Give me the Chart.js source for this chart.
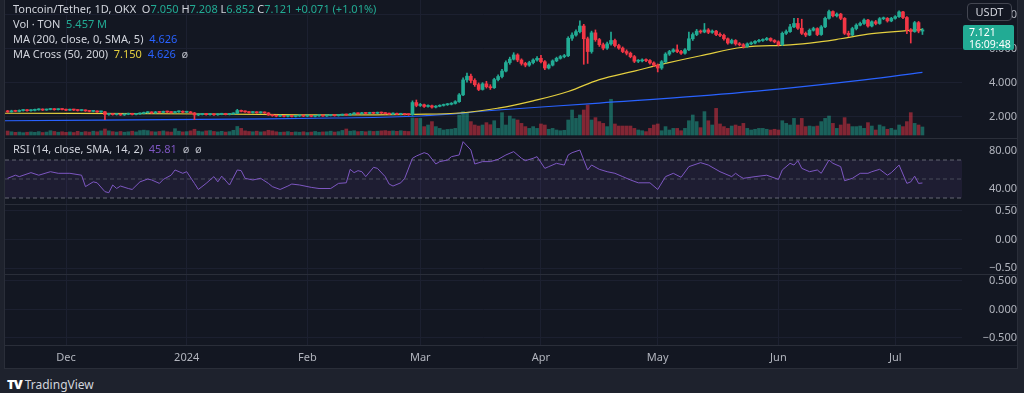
<!DOCTYPE html>
<html>
<head>
<meta charset="utf-8">
<title>Toncoin/Tether 1D</title>
<script src="https://cdn.jsdelivr.net/npm/chart.js@4.4.1/dist/chart.umd.min.js"></script>
<style>
  body { margin: 0; width: 1024px; height: 393px; background: #1e222d; overflow: hidden; font-family: 'Noto Sans', sans-serif; }
  #frame { position: absolute; left: 4px; top: -1px; width: 1014px; height: 370px; box-sizing: border-box; background: #131722; border: 1px solid #2a2e39; }
  canvas { position: absolute; left: 0; }
  .sep { position: absolute; left: 5px; width: 1012px; height: 1px; background: #2a2e39; }
  .legend { position: absolute; left: 13px; font-size: 11px; line-height: 15px; color: #d1d4dc; white-space: nowrap; }
  .g { color: #22ab94; }
  .b { color: #2962ff; }
  .y { color: #e4cf3f; }
  .p { color: #7e57c2; }
  .m { color: #b2b5be; }
  #unit { position: absolute; left: 967px; top: 3px; width: 45px; height: 18px; box-sizing: border-box; border: 1px solid #434651; border-radius: 4px; background: #131722; color: #d1d4dc; font-size: 11px; line-height: 16px; text-align: center; }
  #last { position: absolute; left: 963px; top: 25px; width: 51px; height: 25px; background: #22ab94; border-radius: 2px; color: #fff; font-size: 10.5px; line-height: 12px; padding: 1px 0 0 6px; box-sizing: border-box; white-space: nowrap; }
  #tv { position: absolute; left: 7px; top: 375px; color: #d1d4dc; font-size: 12px; white-space: nowrap; }
  #tv b { font-weight: 900; font-size: 13px; letter-spacing: -1px; color: #fff; margin-right: 3px; }
</style>
</head>
<body>
<div id="frame"></div>
<canvas id="price" width="1017" height="138" style="top:0"></canvas>
<canvas id="rsi" width="1017" height="65" style="top:139px"></canvas>
<canvas id="pane3" width="1017" height="69" style="top:205px"></canvas>
<canvas id="pane4" width="1017" height="93" style="top:275px"></canvas>
<div class="sep" style="top:138px"></div>
<div class="sep" style="top:204px"></div>
<div class="sep" style="top:274px"></div>
<div class="sep" style="top:345px"></div>

<div class="legend" style="top:1px">
  <div>Toncoin/Tether, 1D, OKX&nbsp; O<span class="g">7.050</span> H<span class="g">7.208</span> L<span class="g">6.852</span> C<span class="g">7.121</span> <span class="g">+0.071 (+1.01%)</span></div>
  <div>Vol · TON&nbsp; <span class="g">5.457 M</span></div>
  <div>MA (200, close, 0, SMA, 5)&nbsp; <span class="b">4.626</span></div>
  <div>MA Cross (50, 200)&nbsp; <span class="y">7.150</span>&nbsp; <span class="b">4.626</span>&nbsp; <span class="m">ø</span></div>
</div>
<div class="legend" style="top:141px">RSI (14, close, SMA, 14, 2)&nbsp; <span class="p">45.81</span>&nbsp; <span class="m">ø</span>&nbsp; <span class="m">ø</span></div>
<div id="unit">USDT</div>
<div id="last">7.121<br>16:09:48</div>
<div id="tv"><b>TV</b>TradingView</div>

<script>
// days are counted from 1 Dec 2023; first candle is 16 Nov 2023
const firstDay = -15;

const opens = [
  2.35, 2.30, 2.36, 2.33, 2.38, 2.40, 2.37, 2.39, 2.42, 2.45,
  2.41, 2.44, 2.47, 2.43, 2.46, 2.44, 2.40, 2.43, 2.41, 2.38,
  2.40, 2.36, 2.33, 2.35, 2.30, 2.31, 2.15, 2.18, 2.14, 2.17,
  2.12, 2.16, 2.20, 2.15, 2.18, 2.21, 2.25, 2.28, 2.24, 2.30,
  2.27, 2.32, 2.29, 2.26, 2.30, 2.33, 2.28, 2.30, 2.24, 2.12,
  2.15, 2.18, 2.14, 2.17, 2.13, 2.16, 2.19, 2.15, 2.18, 2.21,
  2.38, 2.33, 2.30, 2.26, 2.29, 2.25, 2.28, 2.24, 2.12, 2.08,
  2.05, 2.08, 2.04, 2.07, 2.03, 2.06, 2.09, 2.05, 2.08, 2.04,
  2.07, 2.10, 2.06, 2.09, 2.12, 2.08, 2.11, 2.14, 2.12, 2.18,
  2.22, 2.19, 2.24, 2.21, 2.25, 2.22, 2.26, 2.23, 2.20, 2.17,
  2.21, 2.16, 2.19, 2.15,
  2.14, 2.85, 2.68, 2.72, 2.62, 2.66, 2.58, 2.63, 2.68, 2.72,
  2.75, 2.80, 2.90, 3.30, 4.18, 4.40, 4.15, 3.90, 3.62, 3.95,
  3.78, 3.72, 4.20, 4.38, 4.70, 5.20, 5.40, 5.65, 5.35, 5.15,
  5.05, 5.20, 5.35, 5.45, 5.25, 4.88, 5.05, 5.30, 5.45, 5.55,
  5.60, 6.63, 6.82, 7.02, 7.35, 6.60, 5.85, 6.95, 6.55, 6.25,
  6.05, 6.30, 6.50, 6.20, 6.05, 5.85, 5.75, 5.55, 5.28, 5.30,
  5.35, 5.32, 5.18, 5.05, 4.88, 5.25, 5.70, 5.85, 5.95, 5.85,
  5.75, 5.95, 6.60, 6.85,
  7.05, 7.00, 7.12, 6.98, 7.05, 6.85, 6.80, 6.60, 6.35, 6.50,
  6.30, 6.25, 6.15, 6.30, 6.35, 6.45, 6.50, 6.55, 6.62, 6.50,
  6.42, 6.25, 6.92, 7.02, 7.30, 7.50, 7.22, 6.92, 6.82, 7.10,
  7.20, 6.85, 7.30, 7.80, 8.20, 7.95, 8.05, 7.80, 6.92, 6.82,
  7.20, 7.40, 7.50, 7.70, 7.35, 7.60, 7.50, 7.78, 7.80, 7.65,
  7.80, 7.90, 8.18, 7.85, 7.12, 7.02, 7.55, 7.05
];

const highs = [
  2.39, 2.40, 2.40, 2.42, 2.44, 2.43, 2.43, 2.46, 2.49, 2.48,
  2.47, 2.51, 2.50, 2.49, 2.49, 2.47, 2.46, 2.46, 2.44, 2.43,
  2.42, 2.39, 2.38, 2.37, 2.35, 2.34, 2.22, 2.20, 2.20, 2.19,
  2.19, 2.23, 2.22, 2.21, 2.24, 2.29, 2.32, 2.31, 2.33, 2.33,
  2.35, 2.35, 2.32, 2.33, 2.37, 2.36, 2.34, 2.33, 2.27, 2.19,
  2.21, 2.21, 2.20, 2.20, 2.19, 2.22, 2.22, 2.21, 2.25, 2.45,
  2.41, 2.36, 2.32, 2.32, 2.31, 2.31, 2.30, 2.26, 2.14, 2.11,
  2.11, 2.10, 2.10, 2.09, 2.09, 2.12, 2.12, 2.11, 2.10, 2.10,
  2.13, 2.12, 2.12, 2.15, 2.14, 2.14, 2.17, 2.17, 2.21, 2.26,
  2.25, 2.27, 2.27, 2.28, 2.28, 2.29, 2.29, 2.26, 2.23, 2.24,
  2.23, 2.22, 2.21, 2.18,
  2.95, 3.00, 2.80, 2.76, 2.72, 2.70, 2.67, 2.72, 2.76, 2.80,
  2.85, 2.96, 3.38, 4.30, 4.58, 4.52, 4.25, 4.00, 4.02, 4.10,
  3.90, 4.28, 4.48, 4.80, 5.30, 5.52, 5.78, 5.72, 5.42, 5.22,
  5.28, 5.42, 5.55, 5.62, 5.32, 5.12, 5.36, 5.52, 5.62, 5.68,
  6.72, 6.95, 7.12, 7.66, 7.45, 6.70, 7.05, 7.12, 6.62, 6.35,
  6.40, 7.00, 6.58, 6.28, 6.12, 5.95, 5.82, 5.62, 5.38, 5.42,
  5.42, 5.38, 5.24, 5.12, 5.32, 5.78, 5.92, 6.02, 6.24, 5.92,
  6.02, 7.00, 6.95, 7.15,
  7.12, 7.50, 7.20, 7.12, 7.10, 6.95, 6.88, 6.65, 6.58, 6.55,
  6.38, 6.32, 6.36, 6.42, 6.50, 6.56, 6.60, 6.68, 6.66, 6.55,
  6.48, 7.00, 7.12, 7.45, 7.80, 7.80, 7.75, 7.00, 7.18, 7.28,
  7.25, 7.38, 7.88, 8.28, 8.25, 8.12, 8.10, 7.85, 7.05, 7.28,
  7.48, 7.58, 7.78, 7.75, 7.66, 7.68, 7.85, 7.88, 7.85, 7.86,
  7.96, 8.24, 8.22, 7.90, 7.20, 7.62, 7.62, 7.208
];

const lows = [
  2.27, 2.28, 2.31, 2.30, 2.35, 2.34, 2.34, 2.36, 2.40, 2.38,
  2.39, 2.42, 2.40, 2.41, 2.42, 2.37, 2.38, 2.38, 2.35, 2.36,
  2.33, 2.30, 2.30, 2.27, 2.27, 1.85, 2.10, 2.11, 2.11, 2.09,
  2.09, 2.13, 2.12, 2.12, 2.15, 2.18, 2.22, 2.21, 2.21, 2.24,
  2.24, 2.26, 2.23, 2.23, 2.27, 2.25, 2.25, 2.20, 1.85, 2.08,
  2.12, 2.11, 2.11, 2.10, 2.10, 2.13, 2.12, 2.12, 2.15, 2.19,
  2.30, 2.27, 2.23, 2.23, 2.22, 2.22, 2.21, 2.09, 2.04, 2.01,
  2.02, 2.01, 2.01, 2.00, 2.00, 2.03, 2.02, 2.02, 2.01, 2.01,
  2.04, 2.03, 2.03, 2.06, 2.05, 2.05, 2.08, 2.09, 2.10, 2.15,
  2.16, 2.16, 2.18, 2.18, 2.19, 2.19, 2.20, 2.17, 2.14, 2.14,
  2.13, 2.13, 2.12, 2.10,
  2.10, 2.60, 2.62, 2.57, 2.58, 2.52, 2.54, 2.60, 2.64, 2.68,
  2.71, 2.76, 2.86, 3.25, 4.05, 4.00, 3.80, 3.55, 3.58, 3.70,
  3.62, 3.68, 4.12, 4.30, 4.65, 5.10, 5.35, 5.25, 5.05, 4.95,
  4.98, 5.12, 5.28, 5.18, 4.78, 4.82, 5.00, 5.25, 5.40, 5.48,
  5.55, 6.50, 6.75, 6.95, 5.10, 5.15, 5.75, 6.45, 6.15, 5.95,
  5.98, 6.22, 6.12, 5.98, 5.78, 5.65, 5.48, 5.20, 5.20, 5.24,
  5.25, 5.10, 4.98, 4.65, 4.80, 5.18, 5.62, 5.80, 5.78, 5.68,
  5.70, 5.90, 6.50, 6.78,
  6.92, 6.95, 6.90, 6.92, 6.78, 6.72, 6.52, 6.28, 6.30, 6.22,
  6.18, 6.05, 6.10, 6.25, 6.30, 6.40, 6.45, 6.50, 6.45, 6.36,
  6.18, 6.20, 6.85, 6.98, 7.25, 7.15, 6.85, 6.72, 6.78, 7.05,
  6.78, 6.80, 7.25, 7.75, 7.88, 7.88, 7.72, 6.85, 6.72, 6.78,
  7.12, 7.35, 7.45, 7.28, 7.30, 7.42, 7.45, 7.72, 7.58, 7.60,
  7.75, 7.85, 7.78, 6.90, 6.35, 6.98, 6.95, 6.852
];

const closes = [
  2.30, 2.36, 2.33, 2.38, 2.40, 2.37, 2.39, 2.42, 2.45, 2.41,
  2.44, 2.47, 2.43, 2.46, 2.44, 2.40, 2.43, 2.41, 2.38, 2.40,
  2.36, 2.33, 2.35, 2.30, 2.31, 2.15, 2.18, 2.14, 2.17, 2.12,
  2.16, 2.20, 2.15, 2.18, 2.21, 2.25, 2.28, 2.24, 2.30, 2.27,
  2.32, 2.29, 2.26, 2.30, 2.33, 2.28, 2.30, 2.24, 2.12, 2.15,
  2.18, 2.14, 2.17, 2.13, 2.16, 2.19, 2.15, 2.18, 2.21, 2.38,
  2.33, 2.30, 2.26, 2.29, 2.25, 2.28, 2.24, 2.12, 2.08, 2.05,
  2.08, 2.04, 2.07, 2.03, 2.06, 2.09, 2.05, 2.08, 2.04, 2.07,
  2.10, 2.06, 2.09, 2.12, 2.08, 2.11, 2.14, 2.12, 2.18, 2.22,
  2.19, 2.24, 2.21, 2.25, 2.22, 2.26, 2.23, 2.20, 2.17, 2.21,
  2.16, 2.19, 2.15, 2.14,
  2.85, 2.68, 2.72, 2.62, 2.66, 2.58, 2.63, 2.68, 2.72, 2.75,
  2.80, 2.90, 3.30, 4.18, 4.40, 4.15, 3.90, 3.62, 3.95, 3.78,
  3.72, 4.20, 4.38, 4.70, 5.20, 5.40, 5.65, 5.35, 5.15, 5.05,
  5.20, 5.35, 5.45, 5.25, 4.88, 5.05, 5.30, 5.45, 5.55, 5.60,
  6.63, 6.82, 7.02, 7.35, 6.60, 5.85, 6.95, 6.55, 6.25, 6.05,
  6.30, 6.50, 6.20, 6.05, 5.85, 5.75, 5.55, 5.28, 5.30, 5.35,
  5.32, 5.18, 5.05, 4.88, 5.25, 5.70, 5.85, 5.95, 5.85, 5.75,
  5.95, 6.60, 6.85, 7.05,
  7.00, 7.12, 6.98, 7.05, 6.85, 6.80, 6.60, 6.35, 6.50, 6.30,
  6.25, 6.15, 6.30, 6.35, 6.45, 6.50, 6.55, 6.62, 6.50, 6.42,
  6.25, 6.92, 7.02, 7.30, 7.50, 7.22, 6.92, 6.82, 7.10, 7.20,
  6.85, 7.30, 7.80, 8.20, 7.95, 8.05, 7.80, 6.92, 6.82, 7.20,
  7.40, 7.50, 7.70, 7.35, 7.60, 7.50, 7.78, 7.80, 7.65, 7.80,
  7.90, 8.18, 7.85, 7.12, 7.02, 7.55, 7.05, 7.121
];

// millions of TON
const volumes = [
  2.7, 2.2, 1.8, 2.0, 1.6, 1.9, 2.1, 1.8, 2.3, 1.7,
  2.0, 2.9, 2.4, 1.9, 2.2, 1.8, 2.1, 1.7, 2.5, 1.9,
  2.3, 2.0, 2.6, 2.2, 2.8, 4.1, 2.8, 2.3, 2.0, 2.4,
  1.9, 2.2, 2.6, 2.1, 3.0, 3.3, 3.0, 2.3, 2.1, 2.4,
  2.8, 2.2, 2.0, 4.3, 2.6, 2.1, 2.3, 2.8, 3.9, 2.6,
  2.2, 2.8, 3.0, 2.4, 2.1, 2.5, 2.0, 2.3, 3.2, 5.8,
  4.5, 2.8, 2.4, 2.2, 2.6, 2.1, 2.3, 3.2, 2.8, 2.2,
  1.9, 2.0, 2.3, 1.8, 2.1, 1.9, 2.2, 1.7, 2.0, 2.4,
  1.9, 2.1, 2.2, 2.6, 2.0, 2.3, 3.1, 4.1, 2.6, 2.9,
  2.3, 2.5, 2.2, 2.7, 2.4, 2.6, 2.8, 3.0, 2.6, 2.8,
  2.5, 2.9, 2.6, 2.4,
  11.6, 11.3, 11.3, 5.7, 6.8, 9.1, 5.7, 4.5, 3.4, 3.8,
  4.0, 4.5, 13.6, 15.9, 15.2, 9.1, 6.8, 6.1, 6.8, 8.4,
  7.0, 9.7, 4.5, 15.2, 6.8, 12.9, 11.0, 10.2, 7.9, 5.7,
  4.5, 5.7, 4.5, 7.5, 6.8, 3.9, 4.5, 3.4, 2.9, 3.2,
  10.2, 17.0, 11.3, 13.6, 17.0, 20.4, 10.2, 11.8, 9.1, 7.9,
  5.7, 24.3, 7.5, 6.1, 6.1, 6.1, 6.1, 4.5, 3.4, 2.9,
  2.3, 4.5, 6.8, 7.5, 2.9, 5.7, 3.4, 4.5, 4.5, 2.9,
  4.5, 9.7, 13.6, 9.1,
  5.0, 15.9, 9.7, 6.8, 18.1, 7.5, 5.7, 4.5, 6.1, 6.8,
  6.0, 7.9, 4.5, 3.4, 3.9, 4.5, 4.5, 3.9, 3.4, 3.9,
  3.4, 9.7, 7.9, 6.8, 11.3, 6.8, 11.3, 5.7, 6.1, 5.7,
  6.1, 9.1, 11.3, 12.9, 7.9, 4.5, 6.8, 11.8, 7.5, 5.7,
  5.7, 6.1, 4.5, 8.4, 6.1, 3.4, 6.8, 5.7, 3.9, 4.5,
  3.4, 6.8, 5.7, 9.1, 15.2, 7.9, 6.8, 5.457
];

// moving averages at a few days
const ma50Days = [-16, 20, 50, 70, 89, 102, 111, 120, 129, 137, 146, 154, 163, 174, 186, 194, 199, 207, 216, 220];
const ma50Values = [2.22, 2.20, 2.15, 2.12, 2.16, 2.25, 2.52, 2.95, 3.50, 4.20, 4.70, 5.15, 5.60, 6.10, 6.24, 6.43, 6.60, 6.90, 7.08, 7.15];
const ma200Days = [-16, 34, 69, 91, 111, 137, 163, 188, 205, 220];
const ma200Values = [1.78, 1.86, 1.94, 2.06, 2.41, 2.82, 3.24, 3.76, 4.18, 4.626];

const rsiDays = [
  -15, -13, -12, -9, -7, -4, -2, 1, 4, 5,
  7, 8, 10, 11, 12, 13, 14, 16, 17, 19,
  21, 22, 24, 25, 27, 28, 30, 31, 33, 34,
  36, 38, 39, 40, 42, 44, 45, 46, 48, 50,
  52, 53, 55, 57, 58, 60, 63, 65, 68, 70,
  72, 73, 74, 75, 76, 77, 79, 80, 82, 83,
  84, 86, 87, 89, 90, 92, 93, 95, 96, 98,
  99, 101, 102, 104, 105, 107, 109, 111, 113, 115,
  117, 118, 120, 121, 123, 124, 126, 128, 129, 130,
  132, 134, 135, 137, 139, 141, 143, 145, 147, 150,
  152, 154, 156, 158, 160, 163, 165, 168, 171, 172,
  173, 174, 177, 180, 183, 184, 186, 187, 188, 189,
  191, 193, 194, 196, 197, 199, 200, 202, 204, 206,
  207, 209, 211, 212, 214, 216, 217, 218, 219, 220
];
const rsiValues = [
  50.7, 54, 52.5, 56.7, 54, 57.7, 56, 56, 54, 42,
  47, 46, 36.7, 35.6, 43.7, 40, 42.6, 40, 39, 47,
  50, 49, 45.4, 49.6, 54, 59.5, 56, 57.7, 45.4, 39,
  45.4, 52.5, 47, 53, 43.7, 59.5, 58.8, 50.7, 49, 50.7,
  45.4, 42, 39, 42.6, 44.7, 43.7, 41.2, 40, 40, 45.4,
  46, 60.2, 56.7, 58.8, 57.7, 52.5, 62.3, 61.2, 52.5, 44.7,
  42.6, 46, 50.7, 71.8, 74.2, 77.7, 76.3, 65.8, 68.3, 70,
  73.5, 75.3, 89.3, 80.5, 65.8, 68.3, 68.3, 70.7, 75.3, 78.8,
  71.8, 69.3, 71.8, 73.5, 61.2, 63, 66.5, 64.7, 75.3, 77.7,
  80.5, 59.5, 64.7, 60.2, 57.7, 56, 52.5, 49, 46, 46,
  39, 52.5, 56, 51.8, 63, 67.2, 64.7, 57.7, 52.5, 56,
  53, 50.7, 52.5, 54, 49.6, 59.5, 66.5, 64.7, 69.3, 61.2,
  57.7, 59.5, 56, 70, 66.5, 63, 48.2, 50.7, 56, 56,
  57.7, 60.2, 54, 56.7, 64.7, 45.4, 47, 53, 45.4, 45.81
];
const rsiLevels = [70, 50, 30];

const monthDays = [0, 31, 62, 91, 122, 152, 183, 213];
const monthLabels = ['Dec', '2024', 'Feb', 'Mar', 'Apr', 'May', 'Jun', 'Jul'];
const priceTicks = [2, 4, 6, 8];
const rsiTicks = [40, 80];
const emptyTicks = [-0.5, 0, 0.5];

Chart.defaults.font.family = "'Noto Sans', sans-serif";
Chart.defaults.font.size = 11;
Chart.defaults.color = '#b2b5be';

const xMin = -15.67;
const xMax = 230.16;
const gridColor = '#1c2030';
const upColor = '#22ab94';
const downColor = '#f23645';
const upVol = 'rgba(34, 171, 148, 0.5)';
const downVol = 'rgba(242, 54, 69, 0.5)';

function isUp(i)
{
    return closes[i] >= opens[i];
}

function monthAxis(showLabels)
{
    return {
        type: 'linear', min: xMin, max: xMax, offset: false,
        afterBuildTicks: s => { s.ticks = monthDays.map(v => ({value: v})); },
        ticks: { display: showLabels, autoSkip: false, maxRotation: 0, padding: 6, callback: (v, i) => monthLabels[i] },
        grid: { color: gridColor, drawTicks: false, offset: false },
        border: { display: false },
        afterFit: s => { s.height = showLabels ? 23 : 0; s.paddingLeft = 0; s.paddingRight = 0; }
    };
}

function sideAxis(min, max, ticks, digits, pad, showGrid)
{
    return {
        type: 'linear', position: 'right', min: min, max: max,
        afterBuildTicks: s => { s.ticks = ticks.map(v => ({value: v})); },
        ticks: { padding: pad, crossAlign: 'far', callback: v => v.toFixed(digits).replace('-', '\u2212') },
        grid: { display: showGrid, color: gridColor, drawTicks: false },
        border: { display: false },
        afterFit: s => { s.width = 55; s.paddingTop = 0; s.paddingBottom = 0; }
    };
}

function baseOptions(scales)
{
    return {
        responsive: false,
        animation: false,
        devicePixelRatio: 1,
        events: [],
        layout: { padding: { left: 5 }, autoPadding: false },
        plugins: { legend: { display: false }, tooltip: { enabled: false } },
        scales: scales
    };
}

const days = closes.map((c, i) => firstDay + i);

new Chart(document.getElementById('price'), {
    type: 'bar',
    data: {
        datasets: [
            {
                data: days.map((d, i) => ({x: d, y: [opens[i], closes[i]]})),
                backgroundColor: c => isUp(c.dataIndex) ? upColor : downColor,
                barThickness: 3, minBarLength: 1, grouped: false, order: 1
            },
            {
                data: days.map((d, i) => ({x: d, y: [lows[i], highs[i]]})),
                backgroundColor: c => isUp(c.dataIndex) ? upColor : downColor,
                barThickness: 1, grouped: false, order: 2
            },
            {
                type: 'line',
                data: ma50Days.map((d, i) => ({x: d, y: ma50Values[i]})),
                borderColor: '#e4cf3f', borderWidth: 1.2, pointRadius: 0, tension: 0.4, order: 3
            },
            {
                type: 'line',
                data: ma200Days.map((d, i) => ({x: d, y: ma200Values[i]})),
                borderColor: '#2962ff', borderWidth: 1.2, pointRadius: 0, tension: 0.4, order: 4
            },
            {
                data: days.map((d, i) => ({x: d, y: volumes[i]})),
                yAxisID: 'yVol',
                backgroundColor: c => isUp(c.dataIndex) ? upVol : downVol,
                barThickness: 3, grouped: false, order: 5
            }
        ]
    },
    options: baseOptions({
        x: monthAxis(false),
        y: sideAxis(0.765, 8.88, priceTicks, 3, 7, true),
        yVol: { type: 'linear', display: false, min: -2.04, max: 91.8 }
    })
});

const bandLine = 'rgba(120, 123, 134, 0.8)';
new Chart(document.getElementById('rsi'), {
    type: 'line',
    data: {
        datasets: [
            {
                data: rsiDays.map((d, i) => ({x: d, y: rsiValues[i]})),
                borderColor: '#7e57c2', borderWidth: 1, pointRadius: 0, tension: 0
            },
            {
                data: [{x: xMin, y: rsiLevels[0]}, {x: xMax, y: rsiLevels[0]}],
                borderColor: bandLine, borderWidth: 1, borderDash: [4, 3], pointRadius: 0
            },
            {
                data: [{x: xMin, y: rsiLevels[1]}, {x: xMax, y: rsiLevels[1]}],
                borderColor: 'rgba(120, 123, 134, 0.5)', borderWidth: 1, borderDash: [4, 3], pointRadius: 0
            },
            {
                data: [{x: xMin, y: rsiLevels[2]}, {x: xMax, y: rsiLevels[2]}],
                borderColor: bandLine, borderWidth: 1, borderDash: [4, 3], pointRadius: 0,
                fill: 1, backgroundColor: 'rgba(126, 87, 194, 0.1)'
            }
        ]
    },
    options: baseOptions({
        x: monthAxis(false),
        y: sideAxis(23.7, 92.1, rsiTicks, 2, 7, false)
    })
});

new Chart(document.getElementById('pane3'), {
    type: 'line',
    data: { datasets: [] },
    options: baseOptions({
        x: monthAxis(false),
        y: sideAxis(-0.605, 0.605, emptyTicks, 2, 7, true)
    })
});

new Chart(document.getElementById('pane4'), {
    type: 'line',
    data: { datasets: [] },
    options: baseOptions({
        x: monthAxis(true),
        y: sideAxis(-0.623, 0.605, emptyTicks, 3, 7, true)
    })
});
</script>
</body>
</html>
